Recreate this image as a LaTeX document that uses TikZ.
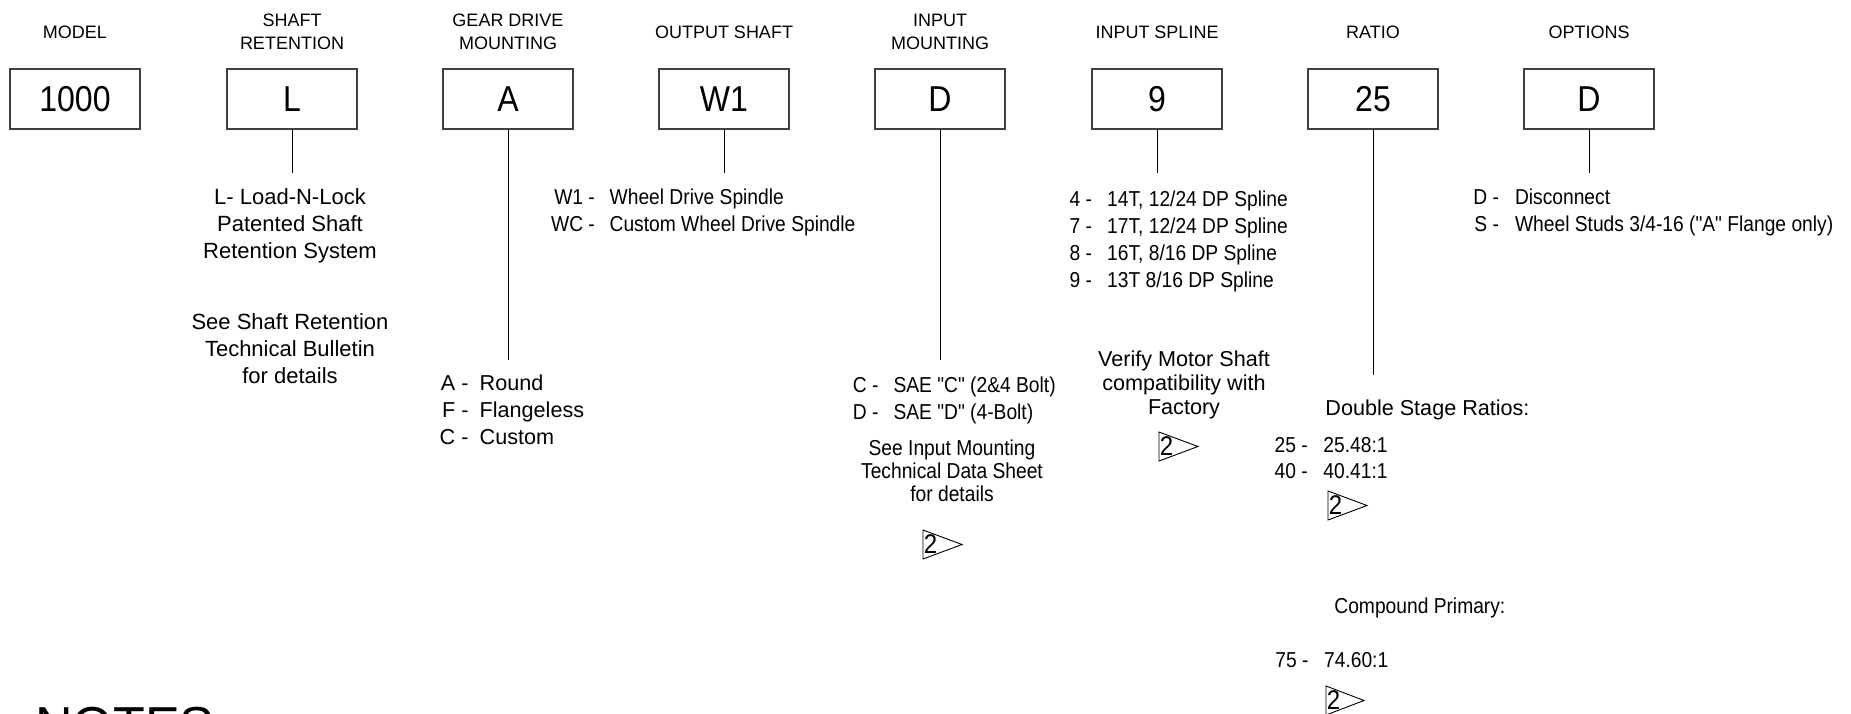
\documentclass[tikz,border=0pt]{standalone}
\usepackage{fontspec}
\setmainfont{Liberation Sans}
\newfontfamily\narrowfont{Liberation Sans}[FakeStretch=0.89]

\begin{document}
\begin{tikzpicture}[x=0.5pt, y=0.5pt,
  hdr/.style={font=\fontsize{9}{11.5}\selectfont, align=center, inner sep=0pt},
  codebox/.style={draw=black!75, line width=0.55pt, minimum width=65pt, minimum height=30pt, inner sep=0pt, font=\narrowfont\fontsize{18}{20}\selectfont},
  lead/.style={draw=black, line width=0.5pt},
  note/.style={font=\fontsize{11}{13.5}\selectfont, align=center, inner sep=0pt, anchor=north},
  vnote/.style={font=\fontsize{10.8}{12.1}\selectfont, align=center, inner sep=0pt, anchor=north},
  nnote/.style={font=\narrowfont\fontsize{10.8}{11.5}\selectfont, align=center, inner sep=0pt, anchor=north},
  lst/.style={font=\fontsize{10.8}{13.5}\selectfont, inner sep=0pt, anchor=base west},
  nlst/.style={font=\narrowfont\fontsize{10.8}{13.5}\selectfont, inner sep=0pt, anchor=base west},
  revflag/.style={draw=black, line width=0.45pt, line join=miter},
  revnum/.style={font=\narrowfont\fontsize{13.5}{13.5}\selectfont, inner sep=0pt, anchor=west}
]
\useasboundingbox (0,0) rectangle (1851,-713);
\clip (0,0) rectangle (1851,-713);

\node[hdr] (hmodel) at (75,-32) {MODEL};
\node[hdr] (hshaft) at (292,-32) {SHAFT\\RETENTION};
\node[hdr] (hgear) at (508,-32) {GEAR DRIVE\\MOUNTING};
\node[hdr] (houtput) at (724,-32) {OUTPUT SHAFT};
\node[hdr] (hinput) at (940,-32) {INPUT\\MOUNTING};
\node[hdr] (hspline) at (1157,-32) {INPUT SPLINE};
\node[hdr] (hratio) at (1373,-32) {RATIO};
\node[hdr] (hopts) at (1589,-32) {OPTIONS};

\node[codebox] (model) at (75,-99) {1000};
\node[codebox] (shaft) at (292,-99) {L};
\node[codebox] (gear) at (508,-99) {A};
\node[codebox] (output) at (724,-99) {W1};
\node[codebox] (input) at (940,-99) {D};
\node[codebox] (spline) at (1157,-99) {9};
\node[codebox] (ratio) at (1373,-99) {25};
\node[codebox] (opts) at (1589,-99) {D};

\coordinate (shaftend) at (292,-173);
\coordinate (gearend) at (508,-360);
\coordinate (outputend) at (724,-173);
\coordinate (inputend) at (940,-360);
\coordinate (splineend) at (1157,-173);
\coordinate (ratioend) at (1373,-375);
\coordinate (optsend) at (1589,-173);
\draw[lead] (shaft.south) -- (shaftend);
\draw[lead] (gear.south) -- (gearend);
\draw[lead] (output.south) -- (outputend);
\draw[lead] (input.south) -- (inputend);
\draw[lead] (spline.south) -- (splineend);
\draw[lead] (ratio.south) -- (ratioend);
\draw[lead] (opts.south) -- (optsend);

\node[note] (shaftnote) at (290,-188) {L- Load-N-Lock\\Patented Shaft\\Retention System};
\node[note] (shaftref) at (290,-313) {See Shaft Retention\\Technical Bulletin\\for details};
\node[lst] (gearlist) at (439.3,-390.7) {\begin{tabular}[t]{@{}r@{\hspace{5.6pt}}l@{}}A -&Round\\F -&Flangeless\\C -&Custom\end{tabular}};
\node[nlst] (outputlist) at (550.7,-204.7) {\begin{tabular}[t]{@{}r@{\hspace{7.4pt}}l@{}}W1 -&Wheel Drive Spindle\\WC -&Custom Wheel Drive Spindle\end{tabular}};
\node[nlst] (inputlist) at (852.5,-392.2) {\begin{tabular}[t]{@{}r@{\hspace{7.5pt}}l@{}}C -&SAE "C" (2\&4 Bolt)\\D -&SAE "D" (4-Bolt)\end{tabular}};
\node[nnote] (inputref) at (952,-439) {See Input Mounting\\Technical Data Sheet\\for details};
\node[nlst] (splinelist) at (1069.3,-206) {\begin{tabular}[t]{@{}r@{\hspace{7.5pt}}l@{}}4 -&14T, 12/24 DP Spline\\7 -&17T, 12/24 DP Spline\\8 -&16T, 8/16 DP Spline\\9 -&13T 8/16 DP Spline\end{tabular}};
\node[vnote] (splinenote) at (1184,-350) {Verify Motor Shaft\\compatibility with\\Factory};
\node[lst] (dsr) at (1325,-415.7) {Double Stage Ratios:};
\node[nlst, font=\narrowfont\fontsize{10.8}{13}\selectfont] (ratiolist) at (1274.3,-452.7) {\begin{tabular}[t]{@{}r@{\hspace{7.8pt}}l@{}}25 -&25.48:1\\40 -&40.41:1\end{tabular}};
\node[nlst] (cprim) at (1334,-613.4) {Compound Primary:};
\node[nlst] (cprimlist) at (1275,-667.7) {\begin{tabular}[t]{@{}r@{\hspace{7.8pt}}l@{}}75 -&74.60:1\end{tabular}};
\node[nlst] (optslist) at (1473,-204.7) {\begin{tabular}[t]{@{}r@{\hspace{8pt}}l@{}}D -&Disconnect\\S -&Wheel Studs 3/4-16 ("A" Flange only)\end{tabular}};

\draw[revflag] (923,-530) -- (923,-559) -- (962,-544.5) -- cycle;
\node[revnum] (rev1) at (923.5,-544.5) {2};
\draw[revflag] (1159,-432) -- (1159,-461) -- (1198,-446.5) -- cycle;
\node[revnum] (rev2) at (1159.5,-446.5) {2};
\draw[revflag] (1328,-491) -- (1328,-520) -- (1367,-505.5) -- cycle;
\node[revnum] (rev3) at (1328.5,-505.5) {2};
\draw[revflag] (1326,-686) -- (1326,-715) -- (1364,-700.5) -- cycle;
\node[revnum] (rev4) at (1326.5,-700.5) {2};

\node[font=\fontsize{26}{26}\selectfont, anchor=north west, inner sep=0pt] (notes) at (35,-707) {NOTES};

\end{tikzpicture}
\end{document}
